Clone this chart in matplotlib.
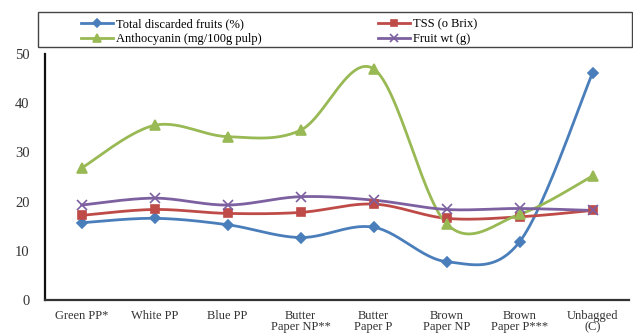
import numpy as np
import matplotlib
matplotlib.use('Agg')
import matplotlib.pyplot as plt
from matplotlib.patches import Rectangle

plt.rcParams['font.family'] = ['Liberation Serif', 'DejaVu Serif']

# bagging treatments along the x axis
categories = ['Green PP*', 'White PP', 'Blue PP', 'Butter\nPaper NP**', 'Butter\nPaper P',
              'Brown\nPaper NP', 'Brown\nPaper P***', 'Unbagged\n(C)']

discarded = [15.7, 16.6, 15.3, 12.7, 14.8, 7.8, 11.8, 46.1]
tss = [17.2, 18.4, 17.6, 17.8, 19.5, 16.6, 16.9, 18.2]
anthocyanin = [26.8, 35.5, 33.2, 34.5, 47.0, 15.5, 17.4, 25.2]
fruit_wt = [19.3, 20.7, 19.3, 21.0, 20.3, 18.4, 18.6, 18.2]

series = [
    ('Total discarded fruits (%)', discarded, '#4A7EBB', 'D', 5),
    ('TSS (o Brix)', tss, '#BE4B48', 's', 6),
    ('Anthocyanin (mg/100g pulp)', anthocyanin, '#98B954', '^', 7),
    ('Fruit wt (g)', fruit_wt, '#7D60A0', 'x', 7),
]


def smooth(y, n=30):
    # cubic bezier through each point, tangents like a Catmull-Rom spline
    y = np.asarray(y, dtype=float)
    x = np.arange(len(y), dtype=float)
    pts = np.column_stack([x, y])
    ext = np.vstack([pts[0], pts, pts[-1]])
    t = np.linspace(0, 1, n)[:, None]
    out = []
    for i in range(len(pts) - 1):
        p0, p3 = ext[i + 1], ext[i + 2]
        p1 = p0 + (ext[i + 2] - ext[i]) / 6
        p2 = p3 - (ext[i + 3] - ext[i + 1]) / 6
        seg = ((1 - t) ** 3) * p0 + 3 * ((1 - t) ** 2) * t * p1 + 3 * (1 - t) * t ** 2 * p2 + t ** 3 * p3
        out.append(seg if i == 0 else seg[1:])
    out = np.vstack(out)
    return out[:, 0], out[:, 1]


fig = plt.figure(figsize=(6.33, 3.36), dpi=100)
ax = fig.add_axes([45 / 633, 36 / 336, 584 / 633, 246 / 336])

handles = []
for label, vals, color, marker, ms in series:
    sx, sy = smooth(vals)
    ax.plot(sx, sy, color=color, lw=2, solid_capstyle='round', zorder=2)
    ax.plot(range(len(vals)), vals, linestyle='none', marker=marker, ms=ms,
            color=color, mec=color, mew=1.2, zorder=3)
    h, = ax.plot([], [], color=color, lw=2, marker=marker, ms=ms, mec=color, mew=1.2)
    handles.append((h, label))

ax.set_xlim(-0.5, len(categories) - 0.5)
ax.set_ylim(0, 50)
ax.set_yticks(range(0, 51, 10))
ax.set_xticks(range(len(categories)))
ax.set_xticklabels(categories, fontsize=9, linespacing=0.95)
ax.tick_params(axis='both', length=0, colors='#333333')
ax.tick_params(axis='x', pad=7, labelsize=9)
ax.tick_params(axis='y', pad=11, labelsize=10.5)

for side in ['top', 'right']:
    ax.spines[side].set_visible(False)
ax.spines['left'].set_linewidth(1.6)
ax.spines['bottom'].set_linewidth(1.6)
ax.spines['left'].set_color('#111111')
ax.spines['bottom'].set_color('#333333')

# legend box across the top
fig.patches.append(Rectangle((38 / 633, 1 - 47 / 336), 594 / 633, 35 / 336,
                             transform=fig.transFigure, fill=False,
                             edgecolor='#444444', lw=1.0))
order = [handles[0], handles[2], handles[1], handles[3]]
fig.legend([h for h, _ in order], [l for _, l in order], ncol=2,
           loc='upper left', bbox_to_anchor=(72 / 633, 1 - 10 / 336),
           frameon=False, fontsize=9, handlelength=2.6, handletextpad=0.2,
           columnspacing=9.3, labelspacing=0.2, borderpad=0.2, markerscale=0.8)

fig.savefig('out.png', dpi=100)
